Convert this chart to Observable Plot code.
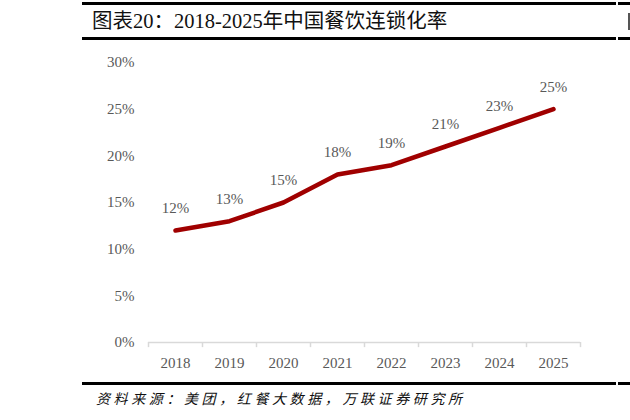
<!DOCTYPE html>
<html>
<head>
<meta charset="utf-8">
<script src="https://cdn.jsdelivr.net/npm/d3@7"></script>
<script src="https://cdn.jsdelivr.net/npm/@observablehq/plot@0.6"></script>
<style>
  html, body { margin: 0; padding: 0; background: #fff; }
  #page { position: relative; width: 630px; height: 420px; overflow: hidden; background: #fff; }
  .bar { position: absolute; height: 3px; background: #000; }
  #title { position: absolute; left: 92px; top: 8px; font-family: "Liberation Serif", "Noto Sans CJK SC", serif; font-size: 20.5px; line-height: 26px; color: #111; white-space: nowrap; }
  #edge { position: absolute; left: 628px; top: 13px; width: 1.5px; height: 17px; background: #555; }
  #source { position: absolute; left: 96px; top: 388px; font-family: "Noto Sans CJK SC", serif; font-style: italic; font-size: 14px; line-height: 20px; letter-spacing: 3.6px; color: #111; white-space: nowrap; }
  #chart { position: absolute; left: 0; top: 0; }
</style>
</head>
<body>
<div id="page">
  <div class="bar" style="left:82px; top:2px; width:534px;"></div>
  <div class="bar" style="left:618px; top:2px; width:12px;"></div>
  <div id="title">图表20：2018-2025年中国餐饮连锁化率</div>
  <div id="edge"></div>
  <div class="bar" style="left:82px; top:37px; width:534px;"></div>
  <div class="bar" style="left:618px; top:37px; width:12px;"></div>
  <div id="chart"></div>
  <div class="bar" style="left:82px; top:382px; width:534px;"></div>
  <div class="bar" style="left:618px; top:382px; width:12px;"></div>
  <div id="source">资料来源：美团，红餐大数据，万联证券研究所</div>
</div>
<script>
const years = ["2018", "2019", "2020", "2021", "2022", "2023", "2024", "2025"];
const rates = [12, 13, 15, 18, 19, 21, 23, 25];
const yTicks = [0, 5, 10, 15, 20, 25, 30];

const data = years.map((year, i) => ({year, rate: rates[i]}));

const gray = "#595959";
const axisGray = "#d9d9d9";
const lineColor = "#a00000";
const marginLeft = 148, marginRight = 50, width = 630;
const halfBand = (width - marginLeft - marginRight) / years.length / 2;

const chart = Plot.plot({
  width: 630,
  height: 420,
  marginTop: 62,
  marginBottom: 78,
  marginLeft,
  marginRight,
  style: {fontFamily: "'Liberation Serif', serif", fontSize: "15px", color: gray, background: "transparent", overflow: "visible"},
  x: {type: "band", domain: years, padding: 0, label: null},
  y: {domain: [0, 30], label: null},
  marks: [
    Plot.axisY({ticks: yTicks, tickFormat: d => d + "%", tickSize: 0, tickPadding: 14, fill: gray, fontSize: 15, label: null}),
    Plot.axisX({tickSize: 0, tickPadding: 15, fill: gray, fontSize: 15, label: null}),
    Plot.ruleY([0], {stroke: axisGray, strokeWidth: 1.5}),
    Plot.ruleX(years, {x: d => d, dx: -halfBand, y1: 0, y2: -0.55, stroke: axisGray, strokeWidth: 1.5}),
    Plot.ruleX(years.slice(-1), {x: d => d, dx: halfBand, y1: 0, y2: -0.55, stroke: axisGray, strokeWidth: 1.5}),
    Plot.line(data, {x: "year", y: "rate", stroke: lineColor, strokeWidth: 4.5, strokeLinecap: "round", strokeLinejoin: "round"}),
    Plot.text(data, {x: "year", y: "rate", text: d => d.rate + "%", dy: -22, fill: gray, fontSize: 15})
  ]
});
document.getElementById("chart").appendChild(chart);
</script>
</body>
</html>
